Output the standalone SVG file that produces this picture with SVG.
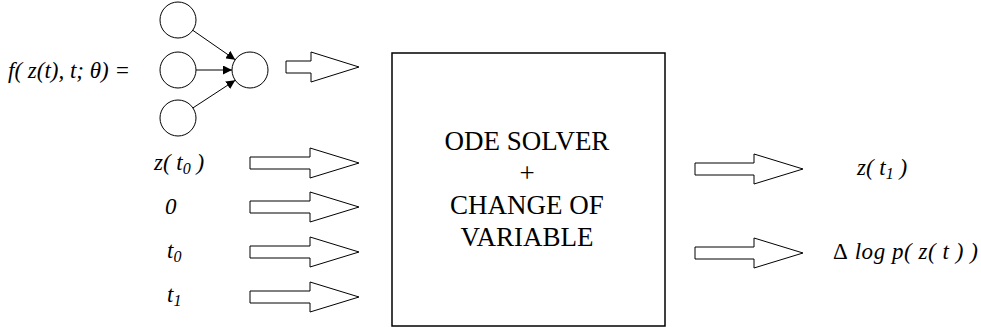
<svg xmlns="http://www.w3.org/2000/svg" width="981" height="327" viewBox="0 0 981 327">
<style>
text{font-family:"Liberation Serif","DejaVu Serif","Times New Roman",serif;fill:#000}
.it{font-style:italic;font-size:23px}
.up{font-style:normal}
.box{font-size:27px}
.c{fill:#fff;stroke:#000;stroke-width:1}
.ha{fill:#fff;stroke:#000;stroke-width:1}
.ln{stroke:#000;stroke-width:1;fill:none}
.sub{font-size:16px}
</style>
<defs>
<marker id="ah" viewBox="0 0 10 10" refX="10" refY="5" markerWidth="9" markerHeight="9" markerUnits="userSpaceOnUse" orient="auto">
<path d="M0,0 L10,5 L0,10 Z" fill="#000"/>
</marker>
</defs>
<rect width="981" height="327" fill="#fff"/>
<g id="label-f"><text class="it" x="8" y="78">f( z(t), t; θ) =</text></g>
<g id="n1"><circle class="c" cx="178" cy="20" r="18"/></g>
<g id="n2"><circle class="c" cx="178" cy="70" r="18"/></g>
<g id="n3"><circle class="c" cx="178" cy="118" r="18"/></g>
<g id="n4"><circle class="c" cx="250" cy="70" r="18"/></g>
<g id="solver">
<rect x="392" y="53" width="273" height="273" fill="#fff" stroke="#000" stroke-width="1.5"/>
<text class="box" text-anchor="middle" x="527" y="150">ODE SOLVER</text>
<text class="box" text-anchor="middle" x="527" y="182">+</text>
<text class="box" text-anchor="middle" x="527" y="214">CHANGE OF</text>
<text class="box" text-anchor="middle" x="527" y="246">VARIABLE</text>
</g>
<g id="label-z0"><text class="it" x="154" y="170">z( t<tspan class="sub" dy="4">0</tspan><tspan dy="-4"> )</tspan></text></g>
<g id="label-0"><text class="it" x="165" y="214">0</text></g>
<g id="label-t0"><text class="it" x="167" y="258">t<tspan class="sub" dy="4">0</tspan></text></g>
<g id="label-t1"><text class="it" x="167" y="302">t<tspan class="sub" dy="4">1</tspan></text></g>
<g id="label-zt1"><text class="it" x="857" y="175">z( t<tspan class="sub" dy="4">1</tspan><tspan dy="-4"> )</tspan></text></g>
<g id="label-dlog"><text class="it" x="833" y="259" textLength="145" lengthAdjust="spacing"><tspan class="up">Δ</tspan> log p( z( t ) )</text></g>
<g id="connectors">
<line class="ln" x1="192.8" y1="30.3" x2="235.2" y2="59.7" marker-end="url(#ah)"/>
<line class="ln" x1="196" y1="70" x2="232" y2="70" marker-end="url(#ah)"/>
<line class="ln" x1="192.8" y1="108" x2="235.2" y2="80.3" marker-end="url(#ah)"/>
<path class="ha" d="M286,61 H311 V52 L359,67 L311,82 V73 H286 Z"/>
<path class="ha" d="M250,157 H310 V148 L359,163 L310,178 V169 H250 Z"/>
<path class="ha" d="M250,201 H310 V192 L359,207 L310,222 V213 H250 Z"/>
<path class="ha" d="M250,246 H310 V237 L359,252 L310,267 V258 H250 Z"/>
<path class="ha" d="M250,291 H310 V282 L359,297 L310,312 V303 H250 Z"/>
<path class="ha" d="M695,163 H754 V154 L803,169 L754,184 V175 H695 Z"/>
<path class="ha" d="M695,247 H754 V238 L803,253 L754,268 V259 H695 Z"/>
</g>
</svg>
